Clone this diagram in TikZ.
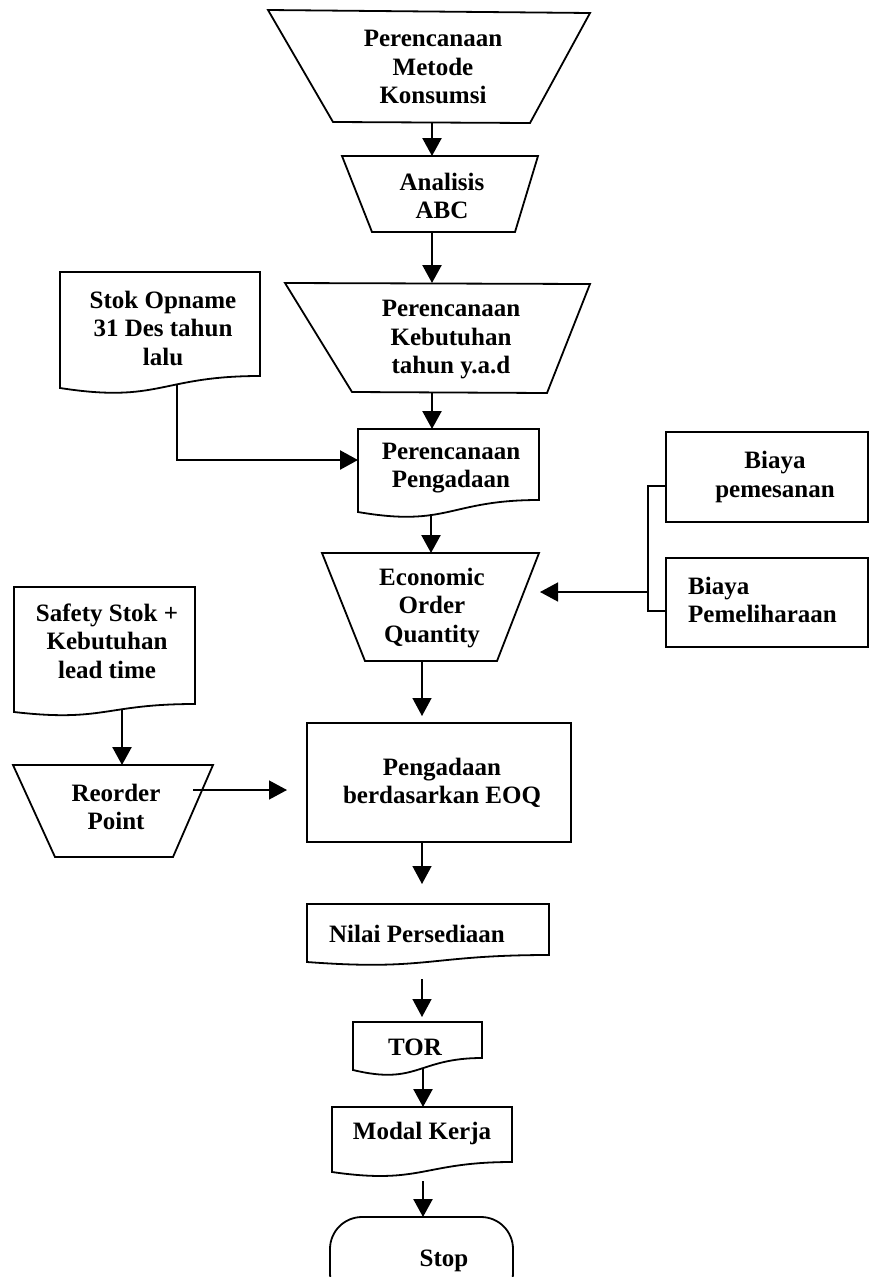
\documentclass[tikz,border=0pt]{standalone}
\usepackage{fontspec}
\setmainfont{Liberation Serif}
\usetikzlibrary{arrows.meta}

% document symbol: left x, top y, right x, bottom-left y, bottom-right y
\newcommand\docbox[5]{%
  \draw[shp] (#1,#2) -- (#3,#2) -- (#3,#5)
    .. controls ({(#1+#3)/2},#5) and ({(#1+#3)/2},{#4+1.3*(#4-#5)}) .. (#1,#4) -- cycle;}

\begin{document}
\begin{tikzpicture}[x=1pt,y=-1pt,
  lbl/.style={font=\fontsize{25}{28.5}\selectfont\bfseries, align=center, inner sep=0pt},
  shp/.style={draw, line width=1.8pt, line join=miter},
  heavy/.style={line width=2.4pt, -{Triangle[length=18pt,width=19pt]}},
  light/.style={line width=1.4pt, -{Triangle[length=18pt,width=19pt]}},
  link/.style={line width=1.6pt}]
\useasboundingbox (0,0) rectangle (870,1277);
\clip (0,0) rectangle (870,1277);

% ---- shapes ----
\draw[shp] (268,10) -- (590,13) -- (530,123) -- (333,122) -- cycle;
\draw[shp] (342,156) -- (538,156) -- (515,232) -- (372,232) -- cycle;
\draw[shp] (285,283) -- (590,284) -- (547,393) -- (352,392) -- cycle;
\docbox{60}{272}{260}{388}{376}
\docbox{358}{429}{539}{512}{500}
\draw[shp] (666,432) rectangle (868,522);
\draw[shp] (666,558) rectangle (868,647);
\draw[shp] (322,553) -- (539,553) -- (497,661) -- (365,661) -- cycle;
\docbox{14}{587}{195}{712}{704}
\draw[shp] (13,765) -- (213,765) -- (173,857) -- (55,857) -- cycle;
\draw[shp] (307,723) rectangle (571,842);
\docbox{307}{904}{549}{962}{955}
\docbox{353}{1022}{482}{1070}{1058}
\docbox{332}{1107}{512}{1172}{1162}
\draw[shp, rounded corners=32pt] (330,1217) rectangle (513,1305);

% ---- labels ----
\node[lbl] (metode)   at (433,67)   {Perencanaan\\Metode\\Konsumsi};
\node[lbl] (abc)      at (442,196)  {Analisis\\ABC};
\node[lbl] (butuh)    at (451,340)  {Perencanaan\\Kebutuhan\\tahun y.a.d};
\node[lbl] (opname)   at (163,328)  {Stok Opname\\31 Des tahun\\lalu};
\node[lbl] (rencana)  at (451,468)  {Perencanaan\\Pengadaan};
\node[lbl] (pesan)    at (775,477)  {Biaya\\pemesanan};
\node[lbl, align=left, anchor=west] (pelihara) at (688,600) {Biaya\\Pemeliharaan};
\node[lbl] (eoq)      at (432,608)  {Economic\\Order\\Quantity};
\node[lbl] (safety)   at (107,641)  {Safety Stok +\\Kebutuhan\\lead time};
\node[lbl] (rop)      at (116,807)  {Reorder\\Point};
\node[lbl] (beli)     at (442,783)  {Pengadaan\\berdasarkan EOQ};
\node[lbl] (nilai)    at (417,934)  {Nilai Persediaan};
\node[lbl] (tor)      at (415,1047) {TOR};
\node[lbl] (modal)    at (422,1133) {Modal Kerja};
\node[lbl] (stop)     at (444,1261) {Stop};

% ---- connector end points ----
\coordinate (metode-s)  at (432,123);
\coordinate (abc-n)     at (432,156);
\coordinate (abc-s)     at (432,232);
\coordinate (butuh-n)   at (432,283);
\coordinate (butuh-s)   at (432,393);
\coordinate (rencana-n) at (432,429);
\coordinate (rencana-w) at (358,460);
\coordinate (rencana-s) at (431,514);
\coordinate (opname-s)  at (177,384);
\coordinate (pesan-w)   at (666,486);
\coordinate (pelihara-w) at (666,611);
\coordinate (bus)       at (648,592);
\coordinate (eoq-n)     at (431,553);
\coordinate (eoq-e)     at (540,592);
\coordinate (eoq-s)     at (422,661);
\coordinate (safety-s)  at (122,710);
\coordinate (rop-n)     at (122,765);
\coordinate (rop-out)   at (193,790);
\coordinate (beli-w)    at (307,790);
\coordinate (beli-n)    at (422,723);
\coordinate (beli-s)    at (422,843);
\coordinate (nilai-n)   at (422,904);
\coordinate (nilai-s)   at (422,963);
\coordinate (tor-n)     at (422,1022);
\coordinate (tor-s)     at (423,1068);
\coordinate (modal-n)   at (423,1107);
\coordinate (modal-s)   at (423,1169);
\coordinate (stop-n)    at (423,1217);

% ---- connectors ----
\draw[heavy] (metode-s) -- (abc-n);
\draw[heavy] (abc-s) -- (butuh-n);
\draw[heavy] (butuh-s) -- (rencana-n);
\draw[heavy] (opname-s) |- (rencana-w);
\draw[heavy] (rencana-s) -- (eoq-n);
\draw[link] (pesan-w) -| (bus |- pelihara-w) -- (pelihara-w);
\draw[light] (bus) -- (eoq-e);
\draw[light, shorten >=7pt] (eoq-s) -- (beli-n);
\draw[heavy] (safety-s) -- (rop-n);
\draw[light, shorten >=20pt] (rop-out) -- (beli-w);
\draw[light, shorten >=20pt] (beli-s) -- (nilai-n);
\draw[light, shorten <=16pt, shorten >=5pt] (nilai-s) -- (tor-n);
\draw[heavy] (tor-s) -- (modal-n);
\draw[heavy, shorten <=12pt] (modal-s) -- (stop-n);
\end{tikzpicture}
\end{document}
